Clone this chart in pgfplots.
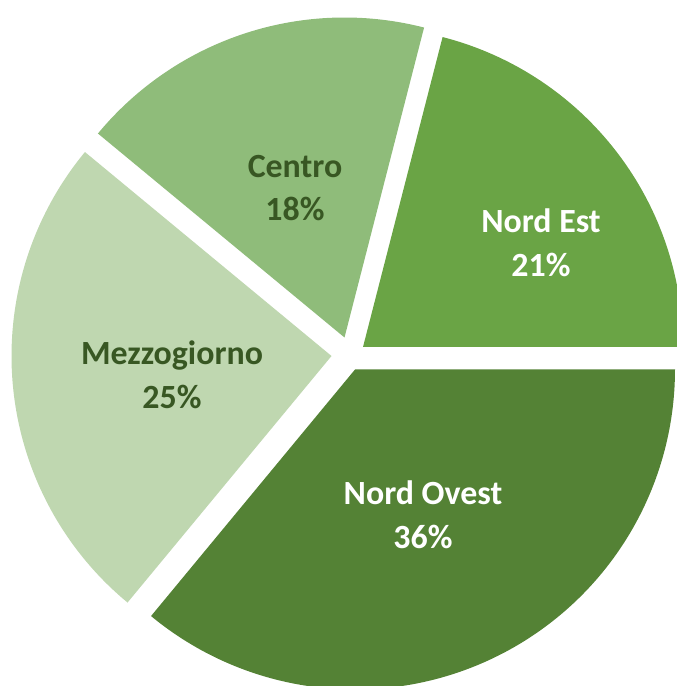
\documentclass[border=0pt]{standalone}
\usepackage{fontspec}
\setmainfont{Carlito}
\usepackage{pgfplots}
\pgfplotsset{compat=1.18}
\definecolor{cNE}{RGB}{106,164,69}
\definecolor{cNO}{RGB}{84,130,53}
\definecolor{cCE}{RGB}{143,188,122}
\definecolor{cME}{RGB}{191,215,176}
\definecolor{cTX}{RGB}{56,87,35}
% Shares (percent): Nord Est 21, Centro 18, Mezzogiorno 25, Nord Ovest 36
% Cumulative angles (deg): 0, 75.6, 140.4, 230.4, 360
\begin{document}
\begin{tikzpicture}
\begin{axis}[
  anchor=south west, at={(0,0)},
  scale only axis, width=677bp, height=686bp,
  xmin=0, xmax=677, ymin=0, ymax=686,
  hide axis, clip=true,
]
% Nord Est 21%
\addplot[fill=cNE, draw=none, domain=0:75.6, samples=120]
  ({363+320*cos(x)},{339+320*sin(x)}) -- (axis cs:363,339) -- cycle;
% Centro 18%
\addplot[fill=cCE, draw=none, domain=75.6:140.4, samples=120]
  ({344.5+320*cos(x)},{348.5+320*sin(x)}) -- (axis cs:344.5,348.5) -- cycle;
% Mezzogiorno 25%
\addplot[fill=cME, draw=none, domain=140.4:230.4, samples=120]
  ({331.5+320*cos(x)},{330+320*sin(x)}) -- (axis cs:331.5,330) -- cycle;
% Nord Ovest 36%
\addplot[fill=cNO, draw=none, domain=230.4:360, samples=160]
  ({355+320*cos(x)},{316.5+320*sin(x)}) -- (axis cs:355,316.5) -- cycle;

\node[align=center, text=cTX, font=\bfseries\fontsize{34}{44}\selectfont] at (axis cs:295,498) {Centro\\18\%};
\node[align=center, text=white, font=\bfseries\fontsize{34}{44}\selectfont] at (axis cs:541,443) {Nord Est\\21\%};
\node[align=center, text=cTX, font=\bfseries\fontsize{34}{44}\selectfont] at (axis cs:172,311) {Mezzogiorno\\25\%};
\node[align=center, text=white, font=\bfseries\fontsize{34}{44}\selectfont] at (axis cs:423,171) {Nord Ovest\\36\%};
\end{axis}
\pgfresetboundingbox
\path[use as bounding box] (0,0) rectangle (677bp,686bp);
\end{tikzpicture}
\end{document}
